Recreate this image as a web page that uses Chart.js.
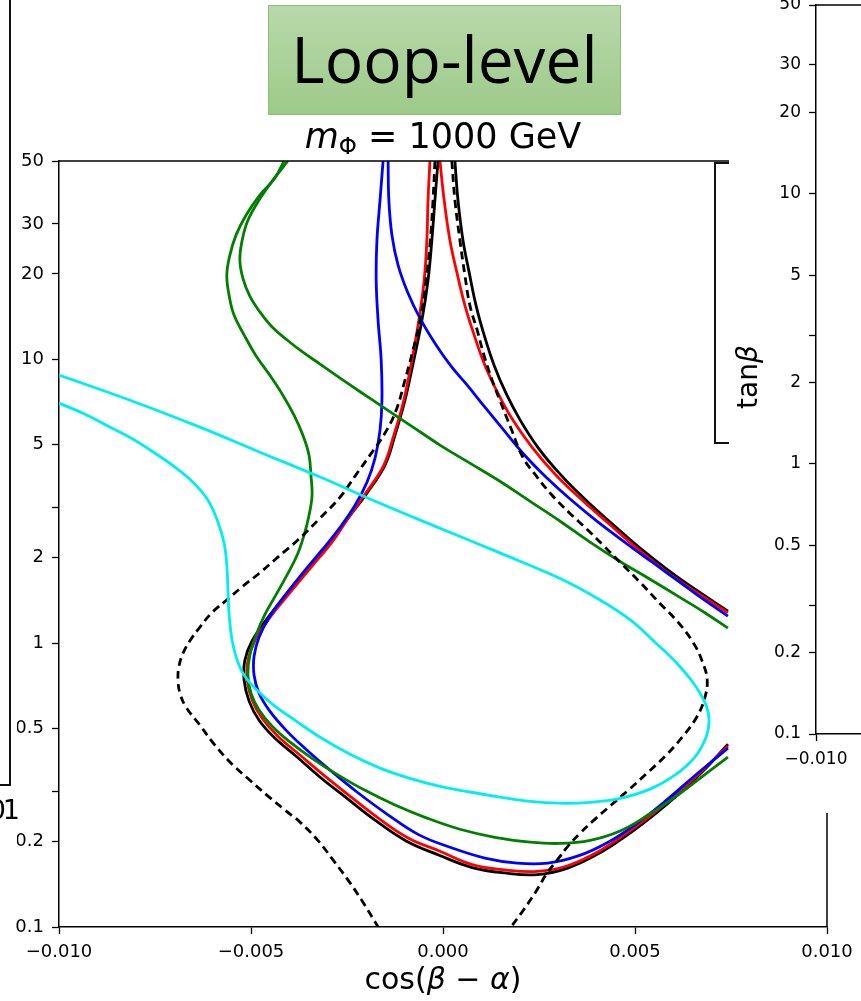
<!DOCTYPE html>
<html>
<head>
<meta charset="utf-8">
<script src="https://cdn.jsdelivr.net/npm/chart.js@4.4.1/dist/chart.umd.min.js"></script>
<style>
  body { margin: 0; width: 861px; height: 1001px; position: relative; overflow: hidden; background: #fff; font-family: "DejaVu Sans", sans-serif; color: #000; }
  #main { position: absolute; left: 0; top: 0; }
  #leftPatch { position: absolute; left: 0; top: 0; width: 17px; height: 870px; background: #fff; }
  #leftPatch .frame { position: absolute; left: 0; top: 0; width: 9px; height: 784px; border-right: 2px solid #111; border-bottom: 2px solid #111; }
  #leftPatch .cut { position: absolute; right: 0; top: 795px; font-size: 27px; line-height: 30px; letter-spacing: -3px; }
  #bracket { position: absolute; left: 714px; top: 162px; width: 14px; height: 278px; border-left: 2px solid #111; border-top: 2px solid #111; border-bottom: 2px solid #111; }
  #rightPanel { position: absolute; left: 729px; top: 0; width: 132px; height: 813px; background: #fff; overflow: hidden; }
  #side { position: absolute; left: 0; top: -20px; }
  #tanb { position: absolute; left: 698px; top: 361px; width: 100px; height: 32px; line-height: 32px; text-align: center; font-size: 28px; transform: rotate(-90deg); }
  #badge { position: absolute; left: 268px; top: 5px; width: 353px; height: 110px; box-sizing: border-box; border: 1px solid #8cbf78;
           background: linear-gradient(#b8d9ab, #9dca89); display: flex; align-items: center; justify-content: center;
           font-family: "Open Sans", sans-serif; font-size: 64px; padding-bottom: 4px; }
  #title { position: absolute; left: 243px; top: 117px; width: 400px; text-align: center; font-size: 35px; line-height: 38px; white-space: nowrap; }
  #title sub { font-size: 23px; vertical-align: -6px; line-height: 0; }
  #xlabel { position: absolute; left: 293px; top: 962px; width: 300px; text-align: center; font-size: 30px; line-height: 34px; white-space: nowrap; }
</style>
</head>
<body>
<canvas id="main" width="861" height="1001"></canvas>
<div id="leftPatch"><div class="frame"></div><span class="cut">01</span></div>
<div id="bracket"></div>
<div id="rightPanel"><canvas id="side" width="600" height="850"></canvas></div>
<div id="tanb">tan<i>β</i></div>
<div id="badge">Loop-level</div>
<div id="title"><i>m</i><sub>Φ</sub> = 1000 GeV</div>
<div id="xlabel">cos(<i>β</i> − <i>α</i>)</div>
<script>
const xTicks = [-0.010, -0.005, 0.000, 0.005, 0.010];
const yTicks = [0.1, 0.2, 0.3, 0.5, 1, 2, 3, 5, 10, 20, 30, 50];
const yTickLabels = ["0.1", "0.2", "", "0.5", "1", "2", "", "5", "10", "20", "30", "50"];

// cyan contour
const cyanX = [-0.01000, -0.00815, -0.00633, -0.00477, -0.00320, -0.00164, -0.00008, 0.00148, 0.00305, 0.00409, 0.00487, 0.00552, 0.00609, 0.00656, 0.00685, 0.00693, 0.00685, 0.00656, 0.00604, 0.00539, 0.00461, 0.00383, 0.00305, 0.00227, 0.00148, 0.00070, -0.00008, -0.00086, -0.00164, -0.00242, -0.00320, -0.00385, -0.00438, -0.00482, -0.00516, -0.00536, -0.00549, -0.00557, -0.00560, -0.00563, -0.00570, -0.00586, -0.00612, -0.00651, -0.00698, -0.00750, -0.00807, -0.00867, -0.00932, -0.01000];
const cyanY = [8.80, 7.18, 5.77, 4.71, 3.85, 3.11, 2.54, 2.08, 1.69, 1.42, 1.21, 1.008, 0.850, 0.711, 0.605, 0.535, 0.466, 0.397, 0.343, 0.306, 0.284, 0.275, 0.273, 0.277, 0.287, 0.299, 0.313, 0.334, 0.363, 0.406, 0.466, 0.535, 0.600, 0.678, 0.765, 0.871, 1.02, 1.26, 1.54, 1.88, 2.25, 2.67, 3.19, 3.69, 4.17, 4.67, 5.23, 5.77, 6.41, 7.01];

// green contours
const greenAX = [-0.00414, -0.00438, -0.00479, -0.00513, -0.00539, -0.00555, -0.00563, -0.00557, -0.00544, -0.00518, -0.00487, -0.00451, -0.00417, -0.00388, -0.00365, -0.00349, -0.00344, -0.00341, -0.00349, -0.00362, -0.00380, -0.00406, -0.00435, -0.00464, -0.00487, -0.00503, -0.00508, -0.00500, -0.00479, -0.00445, -0.00398, -0.00341, -0.00276, -0.00203, -0.00125, -0.00042, 0.00044, 0.00135, 0.00227, 0.00305, 0.00383, 0.00461, 0.00534, 0.00604, 0.00669, 0.00742];
const greenAY = [50, 43.5, 37.6, 32.2, 27.4, 23.3, 19.8, 16.8, 14.3, 12.2, 10.3, 8.80, 7.48, 6.36, 5.41, 4.60, 3.91, 3.32, 2.82, 2.40, 2.04, 1.74, 1.48, 1.26, 1.067, 0.907, 0.771, 0.666, 0.581, 0.510, 0.448, 0.393, 0.345, 0.303, 0.269, 0.242, 0.221, 0.207, 0.199, 0.197, 0.202, 0.218, 0.248, 0.287, 0.334, 0.397];
const greenBX = [-0.00404, -0.00443, -0.00479, -0.00508, -0.00523, -0.00529, -0.00521, -0.00503, -0.00477, -0.00445, -0.00406, -0.00365, -0.00320, -0.00268, -0.00214, -0.00156, -0.00086, -0.00008, 0.00070, 0.00148, 0.00227, 0.00305, 0.00383, 0.00461, 0.00539, 0.00617, 0.00682, 0.00742];
const greenBY = [50, 42.8, 36.4, 30.9, 26.3, 22.4, 19.3, 16.7, 14.7, 13.0, 11.7, 10.6, 9.62, 8.59, 7.66, 6.79, 5.87, 4.99, 4.31, 3.72, 3.16, 2.69, 2.27, 1.94, 1.68, 1.45, 1.28, 1.13];

// blue contours
const blueAX = [-0.00156, -0.00164, -0.00172, -0.00174, -0.00169, -0.00161, -0.00159, -0.00164, -0.00177, -0.00198, -0.00229, -0.00268, -0.00315, -0.00365, -0.00411, -0.00451, -0.00479, -0.00492, -0.00492, -0.00479, -0.00451, -0.00409, -0.00357, -0.00294, -0.00224, -0.00146, -0.00065, 0.00018, 0.00109, 0.00193, 0.00273, 0.00352, 0.00430, 0.00505, 0.00578, 0.00651, 0.00742];
const blueAY = [50, 36.4, 26.3, 19.0, 13.7, 9.94, 7.18, 5.63, 4.49, 3.69, 3.06, 2.56, 2.13, 1.77, 1.476, 1.245, 1.05, 0.900, 0.771, 0.666, 0.576, 0.494, 0.423, 0.357, 0.299, 0.250, 0.212, 0.191, 0.175, 0.168, 0.168, 0.178, 0.199, 0.232, 0.277, 0.337, 0.427];
const blueBX = [-0.00143, -0.00141, -0.00133, -0.00117, -0.00091, -0.00060, -0.00021, 0.00021, 0.00063, 0.00107, 0.00154, 0.00208, 0.00268, 0.00331, 0.00404, 0.00487, 0.00573, 0.00659, 0.00742];
const blueBY = [50, 36.4, 27.4, 21.5, 17.1, 13.97, 11.4, 9.46, 8.11, 6.84, 5.72, 4.67, 3.85, 3.22, 2.67, 2.20, 1.81, 1.49, 1.245];

// red contours
const redAX = [-0.00034, -0.00039, -0.00042, -0.00049, -0.00063, -0.00081, -0.00102, -0.00128, -0.00154, -0.00201, -0.00247, -0.00289, -0.00341, -0.00398, -0.00451, -0.00490, -0.00508, -0.00510, -0.00497, -0.00471, -0.00430, -0.00372, -0.00313, -0.00245, -0.00172, -0.00091, -0.00008, 0.00076, 0.00161, 0.00245, 0.00323, 0.00404, 0.00482, 0.00555, 0.00628, 0.00685, 0.00742];
const redAY = [50, 36.4, 26.3, 19.0, 13.7, 9.94, 7.18, 5.41, 4.24, 3.38, 2.76, 2.27, 1.87, 1.51, 1.23, 1.02, 0.871, 0.741, 0.630, 0.544, 0.470, 0.403, 0.345, 0.291, 0.244, 0.206, 0.185, 0.166, 0.159, 0.157, 0.164, 0.184, 0.216, 0.256, 0.311, 0.366, 0.434];
const redBX = [-0.00008, 0.00003, 0.00018, 0.00036, 0.00057, 0.00081, 0.00109, 0.00143, 0.00182, 0.00232, 0.00292, 0.00357, 0.00430, 0.00505, 0.00583, 0.00664, 0.00742];
const redBY = [50, 36.4, 26.3, 20.3, 15.5, 12.2, 9.54, 7.60, 6.11, 4.90, 3.94, 3.24, 2.65, 2.16, 1.78, 1.50, 1.28];

// black solid contours
const blackAX = [-0.00013, -0.00021, -0.00029, -0.00039, -0.00055, -0.00076, -0.00099, -0.00125, -0.00151, -0.00198, -0.00247, -0.00292, -0.00346, -0.00404, -0.00456, -0.00497, -0.00516, -0.00518, -0.00505, -0.00479, -0.00438, -0.00380, -0.00320, -0.00250, -0.00177, -0.00096, -0.00010, 0.00076, 0.00161, 0.00245, 0.00323, 0.00404, 0.00482, 0.00555, 0.00628, 0.00685, 0.00742];
const blackAY = [50, 36.4, 26.3, 19.0, 13.7, 9.94, 7.18, 5.41, 4.24, 3.38, 2.76, 2.27, 1.87, 1.51, 1.23, 1.02, 0.871, 0.741, 0.625, 0.535, 0.463, 0.397, 0.337, 0.284, 0.238, 0.201, 0.179, 0.162, 0.155, 0.153, 0.161, 0.181, 0.212, 0.252, 0.306, 0.363, 0.441];
const blackBX = [0.00031, 0.00039, 0.00052, 0.00068, 0.00086, 0.00107, 0.00133, 0.00164, 0.00201, 0.00247, 0.00305, 0.00367, 0.00438, 0.00510, 0.00586, 0.00664, 0.00742];
const blackBY = [50, 36.4, 26.3, 20.3, 15.5, 12.2, 9.54, 7.60, 6.11, 4.90, 3.94, 3.24, 2.65, 2.18, 1.81, 1.524, 1.297];

// black dashed contours
const dashAX = [-0.00021, -0.00026, -0.00034, -0.00044, -0.00057, -0.00078, -0.00099, -0.00122, -0.00151, -0.00190, -0.00229, -0.00268, -0.00320, -0.00378, -0.00430, -0.00477, -0.00523, -0.00563, -0.00602, -0.00633, -0.00659, -0.00677, -0.00688, -0.00690, -0.00685, -0.00669, -0.00633, -0.00594, -0.00547, -0.00503, -0.00458, -0.00411, -0.00372, -0.00326, -0.00286, -0.00242, -0.00203, -0.00169];
const dashAY = [50, 36.4, 25.3, 19.0, 14.3, 10.8, 8.45, 6.62, 5.50, 4.60, 3.88, 3.27, 2.76, 2.31, 2.01, 1.77, 1.58, 1.42, 1.28, 1.14, 1.02, 0.922, 0.823, 0.741, 0.666, 0.595, 0.514, 0.437, 0.372, 0.329, 0.291, 0.258, 0.234, 0.202, 0.172, 0.143, 0.119, 0.100];
const dashBX = [0.00023, 0.00031, 0.00044, 0.00057, 0.00070, 0.00089, 0.00107, 0.00128, 0.00148, 0.00177, 0.00208, 0.00245, 0.00284, 0.00328, 0.00375, 0.00419, 0.00464, 0.00513, 0.00565, 0.00612, 0.00651, 0.00674, 0.00688, 0.00680, 0.00659, 0.00625, 0.00581, 0.00531, 0.00482, 0.00438, 0.00393, 0.00357, 0.00326, 0.00297, 0.00271, 0.00240, 0.00206, 0.00177];
const dashBY = [50, 36.4, 26.3, 19.8, 15.5, 12.67, 10.3, 8.45, 7.18, 5.72, 4.52, 3.85, 3.32, 2.89, 2.52, 2.20, 1.91, 1.64, 1.38, 1.186, 1.008, 0.871, 0.741, 0.630, 0.544, 0.470, 0.403, 0.348, 0.303, 0.269, 0.238, 0.214, 0.193, 0.172, 0.155, 0.132, 0.113, 0.100];

const tickFont = { family: "DejaVu Sans", size: 18 };

function pts(xs, ys) {
  return xs.map((x, i) => ({ x, y: ys[i] }));
}

function curve(xs, ys, color, dashed) {
  return {
    data: pts(xs, ys),
    showLine: true,
    borderColor: color,
    borderWidth: 2.8,
    borderDash: dashed ? [8, 5] : [],
    pointRadius: 0,
    tension: 0.4,
    fill: false
  };
}

function fmtX(v) {
  if (Math.abs(v) < 1e-12) return "0.000";
  return (v < 0 ? "\u2212" : "") + Math.abs(v).toFixed(3);
}

function fmtY(v) {
  const i = yTicks.indexOf(v);
  return i >= 0 ? yTickLabels[i] : "";
}

// top and right spines, like matplotlib
const frameBox = {
  id: "frameBox",
  afterDraw(chart, args, opts) {
    const { ctx, chartArea: a } = chart;
    ctx.save();
    ctx.strokeStyle = "#000";
    ctx.lineWidth = 1.5;
    ctx.beginPath();
    ctx.moveTo(a.left, a.top);
    ctx.lineTo(a.right, a.top);
    if (opts.right !== false) ctx.lineTo(a.right, a.bottom);
    ctx.stroke();
    ctx.restore();
  }
};

function axisX(height, size) {
  return {
    type: "linear",
    min: -0.01,
    max: 0.01,
    afterBuildTicks: s => { s.ticks = xTicks.map(v => ({ value: v })); },
    afterFit: s => { s.height = height; },
    ticks: { callback: v => fmtX(v), color: "#000", font: { family: "DejaVu Sans", size }, padding: 8, maxRotation: 0, autoSkip: false },
    grid: { drawOnChartArea: false, drawTicks: true, tickLength: 7, tickColor: "#000", tickWidth: 1.3 },
    border: { display: true, color: "#000", width: 1.5 }
  };
}

function axisY(width, size) {
  return {
    type: "logarithmic",
    min: 0.1,
    max: 50,
    afterBuildTicks: s => { s.ticks = yTicks.map(v => ({ value: v })); },
    afterFit: s => { s.width = width; },
    ticks: { callback: v => fmtY(v), color: "#000", font: { family: "DejaVu Sans", size }, padding: 8, autoSkip: false },
    grid: { drawOnChartArea: false, drawTicks: true, tickLength: 7, tickColor: "#000", tickWidth: 1.3 },
    border: { display: true, color: "#000", width: 1.5 }
  };
}

new Chart(document.getElementById("main"), {
  type: "scatter",
  data: {
    datasets: [
      curve(cyanX, cyanY, "#00eeee", false),
      curve(dashAX, dashAY, "#000000", true),
      curve(dashBX, dashBY, "#000000", true),
      curve(greenAX, greenAY, "#007f00", false),
      curve(greenBX, greenBY, "#007f00", false),
      curve(blueAX, blueAY, "#0000ff", false),
      curve(blueBX, blueBY, "#0000ff", false),
      curve(redAX, redAY, "#ff0000", false),
      curve(redBX, redBY, "#ff0000", false),
      curve(blackAX, blackAY, "#000000", false),
      curve(blackBX, blackBY, "#000000", false)
    ]
  },
  options: {
    responsive: false,
    animation: false,
    events: [],
    layout: { padding: { left: 0, top: 161, right: 34, bottom: 0 } },
    plugins: { legend: { display: false }, tooltip: { enabled: false }, frameBox: {} },
    scales: { x: axisX(74, tickFont.size), y: axisY(59, tickFont.size) }
  },
  plugins: [frameBox]
});

// the next panel of the slide, only its axes show
new Chart(document.getElementById("side"), {
  type: "scatter",
  data: { datasets: [] },
  options: {
    responsive: false,
    animation: false,
    events: [],
    layout: { padding: { left: 0, top: 25, right: 13, bottom: 0 } },
    plugins: { legend: { display: false }, tooltip: { enabled: false }, frameBox: { right: false } },
    scales: { x: axisX(96, 17), y: axisY(87, 17) }
  },
  plugins: [frameBox]
});
</script>
</body>
</html>
